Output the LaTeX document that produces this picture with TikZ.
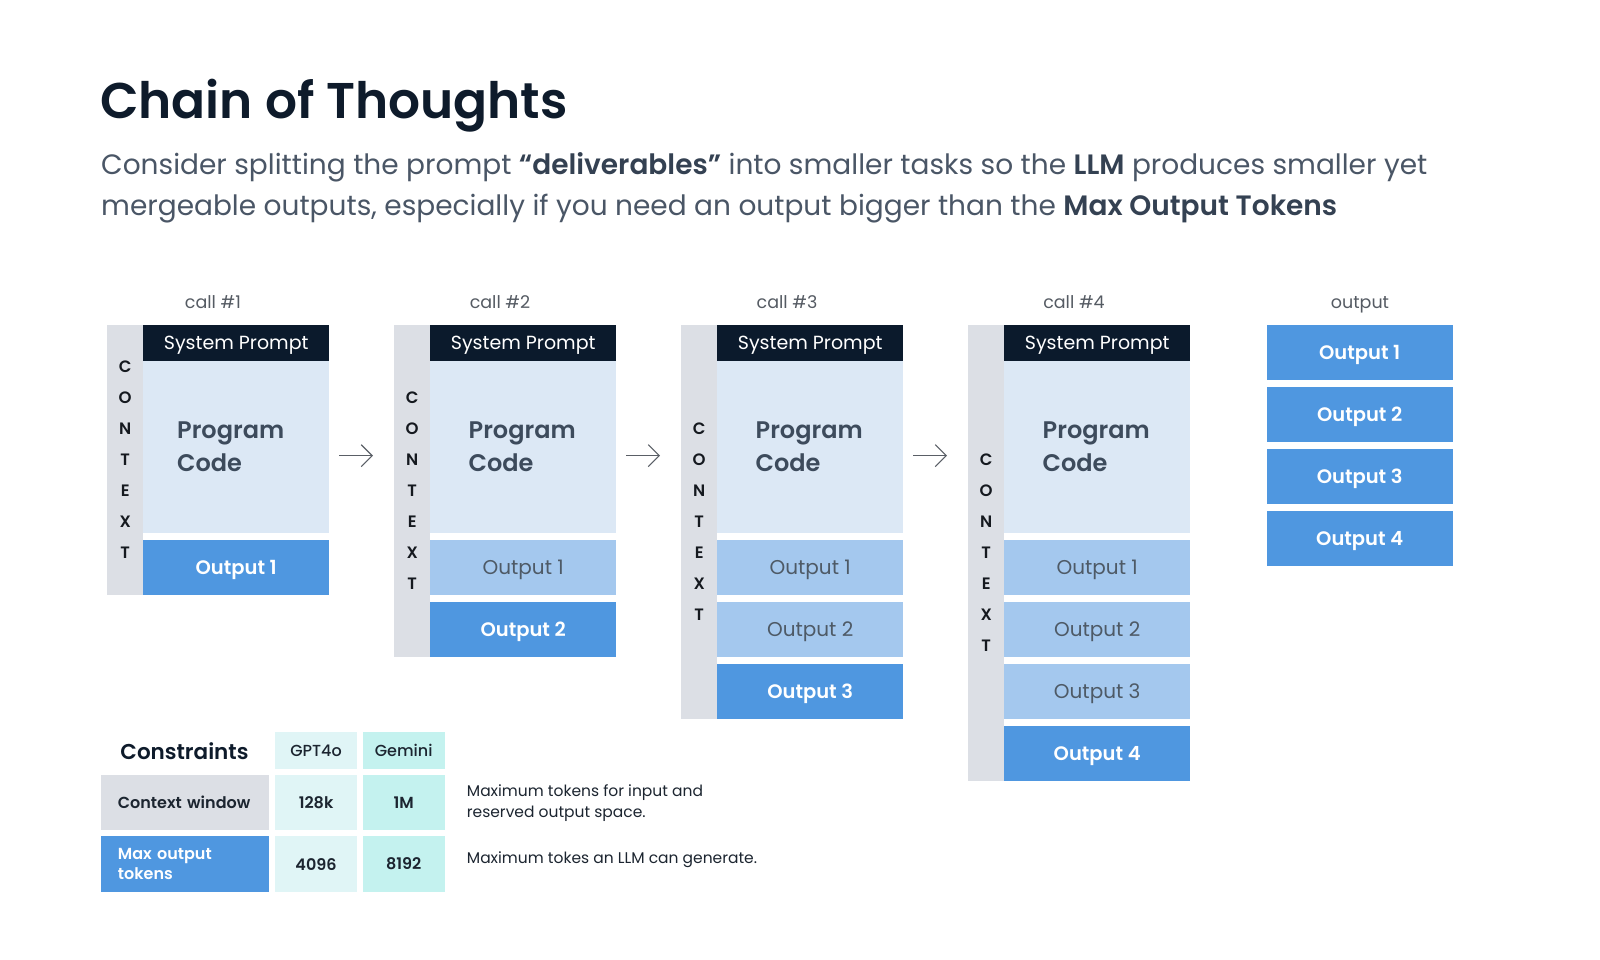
\documentclass[tikz,border=0pt]{standalone}
\usepackage{fontspec}
\setmainfont{Poppins}[BoldFont={Poppins SemiBold}]
\newfontfamily\popmed{Poppins Medium}
\usetikzlibrary{arrows.meta,calc}
\definecolor{navy}{HTML}{0B1A2C}
\definecolor{titlec}{HTML}{0E1B2B}
\definecolor{subc}{HTML}{4A5666}
\definecolor{subbold}{HTML}{344152}
\definecolor{codefill}{HTML}{DCE8F5}
\definecolor{codetext}{HTML}{3D4B5C}
\definecolor{ctxgray}{HTML}{DCDFE5}
\definecolor{ctxtext}{HTML}{15191F}
\definecolor{outdark}{HTML}{4F97E0}
\definecolor{outlight}{HTML}{A4C8EE}
\definecolor{outtext}{HTML}{4E5A66}
\definecolor{lblgray}{HTML}{555B63}
\definecolor{arrowgray}{HTML}{5A5F66}
\definecolor{cyanA}{HTML}{E0F5F6}
\definecolor{cyanB}{HTML}{C4F2EF}
\definecolor{tabtext}{HTML}{1C2530}
\tikzset{
  ctx/.style={fill=ctxgray, draw=none, minimum width=36pt, inner sep=0pt, anchor=north west,
    font=\fontsize{16.5}{31}\selectfont\bfseries, text=ctxtext, align=center},
  sp/.style={fill=navy, text=white, minimum width=186pt, minimum height=36.4pt, inner sep=0pt,
    text depth=0pt, anchor=north west, font=\fontsize{19}{22}\selectfont},
  code/.style={fill=codefill, text=codetext, anchor=north west, minimum height=171.6pt,
    inner ysep=0pt, align=left, font=\fontsize{24}{33.7}\selectfont\bfseries},
  outD/.style={fill=outdark, text=white, minimum width=186pt, minimum height=55pt, inner sep=0pt,
    text depth=0pt, anchor=north west, font=\fontsize{19.5}{24}\selectfont\bfseries},
  outL/.style={outD, fill=outlight, text=outtext, font=\fontsize{20}{24}\selectfont},
  calllbl/.style={anchor=base, inner sep=0pt, text=lblgray, font=\fontsize{17.5}{20}\selectfont},
  flow/.style={draw=arrowgray, line width=1.1pt, shorten >=21pt,
    -{Straight Barb[length=11pt,width=22pt,line width=1.1pt]}},
  cell/.style={anchor=north west, inner sep=0pt, text=tabtext, font=\fontsize{16}{20}\selectfont\bfseries},
  desc/.style={anchor=west, align=left, inner sep=0pt, text=tabtext, font=\fontsize{15.5}{20.6}\selectfont}
}
\begin{document}
\begin{tikzpicture}[x=1pt,y=-1pt]
\useasboundingbox[fill=white] (0,0) rectangle (1600,960);

% title
\node[anchor=base west, inner sep=0pt, text=titlec, font=\fontsize{50.2}{60}\selectfont\bfseries]
  (title) at (100,118.5) {Chain of Thoughts};
\node[anchor=base west, inner sep=0pt, text=subc, font=\fontsize{28}{40}\selectfont]
  (sub1) at (101,175) {Consider splitting the prompt \textcolor{subbold}{\textbf{“deliverables”}} into smaller tasks so the \textcolor{subbold}{\textbf{LLM}} produces smaller yet};
\node[anchor=base west, inner sep=0pt, text=subc, font=\fontsize{28}{40}\selectfont]
  (sub2) at (101,215) {mergeable outputs, especially if you need an output bigger than the \textcolor{subbold}{\textbf{Max Output Tokens}}};

% calls
\foreach \k in {1,2,3,4} {
  \pgfmathsetmacro\xc{107+287*(\k-1)}
  \pgfmathsetmacro\hc{270.2+62.2*(\k-1)}
  \pgfmathsetmacro\cx{\k==1 ? 34 : 38.5}
  \pgfmathsetmacro\tw{186-2*\cx}
  \node[ctx, minimum height=\hc pt] (ctx\k) at (\xc,324.3) {C\\O\\N\\T\\E\\X\\T};
  \node[sp] (sp\k) at (\xc+36,324.3) {System Prompt};
  \node[code, inner xsep=\cx pt, text width=\tw pt] (code\k) at (\xc+36,360.7) {Program\\Code};
  \node[calllbl] (call\k) at (\xc+106,308) {call \#\k};
  \foreach \i in {1,...,\k} {
    \pgfmathsetmacro\yo{539.5+62.2*(\i-1)}
    \ifnum\i=\k
      \node[outD] (o\k-\i) at (\xc+36,\yo) {Output \i};
    \else
      \node[outL] (o\k-\i) at (\xc+36,\yo) {Output \i};
    \fi
  }
}

% arrows
\foreach \k/\n in {1/2,2/3,3/4} {
  \coordinate (a\k) at ([xshift=10pt,yshift=-9pt]code\k.east);
  \draw[flow] (a\k) -- (a\k -| ctx\n.west);
}

% final output column
\node[calllbl] (outlbl) at (1360,308) {output};
\foreach \i in {1,2,3,4} {
  \pgfmathsetmacro\yo{324.3+62.2*(\i-1)}
  \node[outD, minimum width=185.6pt] (fo\i) at (1266.7,\yo) {Output \i};
}

% constraints table
\node[inner sep=0pt, text=titlec, font=\fontsize{21.5}{24}\selectfont\bfseries] (cons) at (184.5,750.7) {Constraints};
\node[cell, fill=cyanA, minimum width=81.7pt, minimum height=37.3pt, font=\fontsize{16}{20}\popmed] (hG) at (275,731.7) {GPT4o};
\node[cell, fill=cyanB, minimum width=81.6pt, minimum height=37.3pt, font=\fontsize{16}{20}\popmed] (hM) at (362.7,731.7) {Gemini};

\node[cell, fill=ctxgray, minimum height=55pt, text width=133.9pt, inner xsep=16.7pt, align=left] (r1) at (101,775) {Context window};
\node[cell, fill=cyanA, minimum width=81.7pt, minimum height=55pt] (r1g) at (275,775) {128k};
\node[cell, fill=cyanB, minimum width=81.6pt, minimum height=55pt] (r1m) at (362.7,775) {1M};

\node[cell, fill=outdark, text=white, minimum height=55.7pt, text width=133.9pt, inner xsep=16.7pt, align=left,
  font=\fontsize{16}{19.7}\selectfont\bfseries] (r2) at (101,836) {Max output\\tokens};
\node[cell, fill=cyanA, minimum width=81.7pt, minimum height=55.7pt] (r2g) at (275,836) {4096};
\node[cell, fill=cyanB, minimum width=81.6pt, minimum height=55.7pt] (r2m) at (362.7,836) {8192};

\node[desc] (d1) at (466.7,803) {Maximum tokens for input and\\reserved output space.};
\node[desc] (d2) at (466.7,859.3) {Maximum tokes an LLM can generate.};
\end{tikzpicture}
\end{document}
